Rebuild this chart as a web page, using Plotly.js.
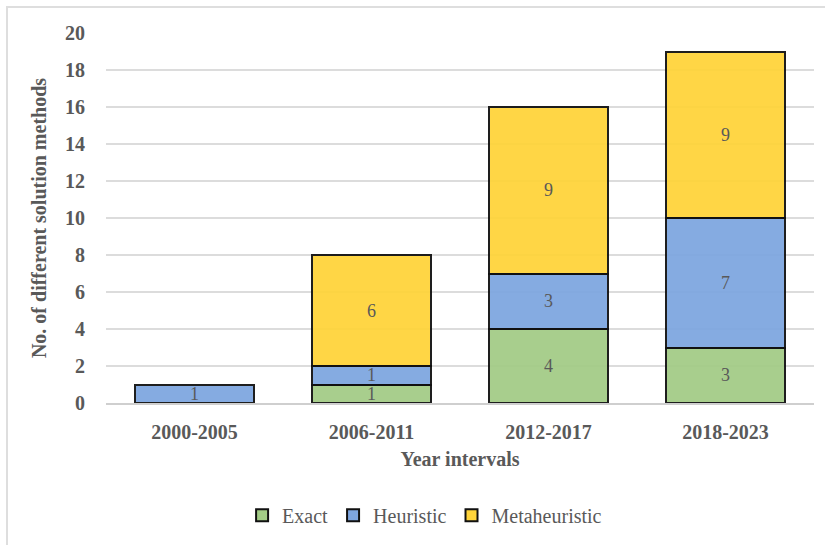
<!DOCTYPE html>
<html>
<head>
<meta charset="utf-8">
<script src="https://cdn.plot.ly/plotly-3.0.1.min.js"></script>
<style>
  html, body { margin: 0; padding: 0; background: #fff; }
  #wrap { position: relative; width: 825px; height: 545px; }
  #chart { width: 825px; height: 545px; }
  #frame { position: absolute; left: 6px; top: 6px; right: -4px; bottom: -4px;
           border-left: 2px solid #dedede; border-top: 2px solid #dedede; pointer-events: none; }
</style>
</head>
<body>
<div id="wrap">
  <div id="chart"></div>
  <div id="frame"></div>
</div>
<script>
// Number of distinct solution methods per period, split by method family
const intervals = ['2000-2005', '2006-2011', '2012-2017', '2018-2023'];
const exact = [0, 1, 4, 3];
const heuristic = [1, 1, 3, 7];
const metaheuristic = [0, 6, 9, 9];

const serif = 'Liberation Serif';
const grey = '#595959';
const fs = 20;

function series(name, values, color) {
  return {
    type: 'bar',
    name: name,
    x: intervals,
    y: values.map(v => (v > 0 ? v : null)),
    text: values.map(v => (v > 0 ? String(v) : '')),
    textposition: 'inside',
    insidetextanchor: 'middle',
    textangle: 0,
    constraintext: 'none',
    textfont: { family: serif, size: 18, color: grey },
    marker: { color: color, opacity: 0.94, line: { color: '#111', width: 2 } },
    hoverinfo: 'x+y+name'
  };
}

const data = [
  series('Exact', exact, '#a3cc86'),
  series('Heuristic', heuristic, '#7ea6e0'),
  series('Metaheuristic', metaheuristic, '#ffd43a')
];

const layout = {
  width: 825,
  height: 545,
  barmode: 'stack',
  bargap: 0.333,
  paper_bgcolor: '#fff',
  plot_bgcolor: '#fff',
  margin: { l: 106, r: 11, t: 33, b: 141 },
  font: { family: serif, color: grey, size: fs },
  showlegend: true,
  legend: {
    orientation: 'h',
    x: 0.45, xanchor: 'center',
    y: -0.3, yanchor: 'middle',
    font: { family: serif, size: fs, color: grey },
    traceorder: 'normal',
    itemwidth: 30,
    tracegroupgap: 0
  },
  xaxis: {
    type: 'category',
    automargin: false,
    showgrid: false,
    showline: true,
    linecolor: '#cfcfcf',
    linewidth: 2,
    ticks: 'outside',
    ticklen: 10,
    tickcolor: 'rgba(0,0,0,0)',
    tickfont: { family: serif, size: fs, color: grey, weight: 'bold' },
    title: { text: '<b>Year intervals</b>', font: { family: serif, size: fs, color: grey }, standoff: 10 }
  },
  yaxis: {
    range: [0, 20],
    dtick: 2,
    automargin: false,
    showgrid: true,
    gridcolor: '#dcdcdc',
    gridwidth: 1.5,
    zeroline: false,
    ticks: 'outside',
    ticklen: 16,
    tickcolor: 'rgba(0,0,0,0)',
    tickfont: { family: serif, size: fs, color: grey, weight: 'bold' },
    title: { text: '<b>No. of different solution methods</b>', font: { family: serif, size: fs, color: grey }, standoff: 13 }
  }
};

Plotly.newPlot('chart', data, layout, { displayModeBar: false, staticPlot: true });
</script>
</body>
</html>
